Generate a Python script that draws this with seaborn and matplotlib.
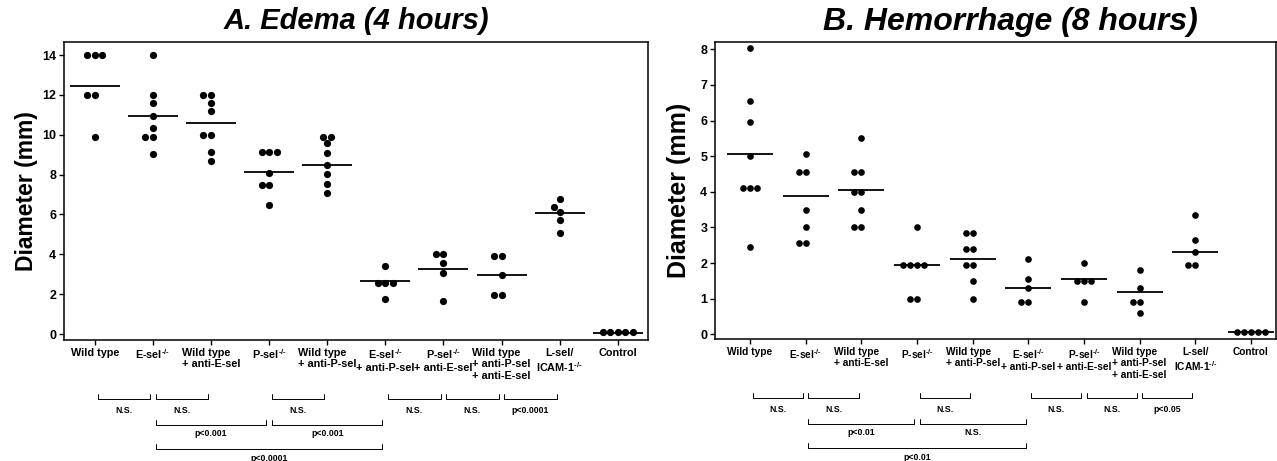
import pandas as pd
import matplotlib
matplotlib.use('Agg')
import matplotlib.pyplot as plt
import seaborn as sns

# Group labels (x axis)
ko = "$^{\u2010/\u2010}$"
groups = ["Wild type", "E-sel" + ko, "Wild type\n+ anti-E-sel", "P-sel" + ko,
          "Wild type\n+ anti-P-sel", "E-sel" + ko + "\n+ anti-P-sel",
          "P-sel" + ko + "\n+ anti-E-sel", "Wild type\n+ anti-P-sel\n+ anti-E-sel",
          "L-sel/\nICAM-1" + ko, "Control"]

# A. Edema (4 hours), diameter in mm
edema_wt = [14, 14, 14, 12, 12, 9.9]
edema_esel = [14, 12, 11.6, 10.95, 10.35, 9.9, 9.9, 9.05]
edema_wt_antie = [12, 12, 11.6, 11.2, 10.0, 10.0, 9.15, 8.7]
edema_psel = [9.15, 9.15, 9.15, 8.1, 7.5, 7.5, 6.45]
edema_wt_antip = [9.9, 9.9, 9.6, 9.1, 8.5, 8.05, 7.55, 7.1]
edema_esel_antip = [3.4, 2.55, 2.55, 2.55, 1.75]
edema_psel_antie = [4.0, 4.0, 3.55, 3.05, 1.65]
edema_wt_antipe = [3.9, 3.9, 2.95, 1.95, 1.95]
edema_lsel = [6.8, 6.35, 6.1, 5.7, 5.05]
edema_ctrl = [0.08, 0.08, 0.08, 0.08, 0.08]
edema_means = [12.45, 10.95, 10.6, 8.15, 8.5, 2.65, 3.25, 2.95, 6.05, 0.03]

# B. Hemorrhage (8 hours), diameter in mm
hem_wt = [8.05, 6.55, 5.95, 5.0, 4.1, 4.1, 4.1, 2.45]
hem_esel = [5.05, 4.55, 4.55, 3.5, 3.0, 2.55, 2.55]
hem_wt_antie = [5.5, 4.55, 4.55, 4.0, 4.0, 3.5, 3.0, 3.0]
hem_psel = [3.0, 1.95, 1.95, 1.95, 1.95, 1.0, 1.0]
hem_wt_antip = [2.85, 2.85, 2.4, 2.4, 1.95, 1.95, 1.5, 1.0]
hem_esel_antip = [2.1, 1.55, 1.3, 0.9, 0.9]
hem_psel_antie = [2.0, 1.5, 1.5, 1.5, 0.9]
hem_wt_antipe = [1.8, 1.3, 0.9, 0.9, 0.6]
hem_lsel = [3.35, 2.65, 2.3, 1.95, 1.95]
hem_ctrl = [0.05, 0.05, 0.05, 0.05, 0.05]
hem_means = [5.05, 3.88, 4.05, 1.95, 2.1, 1.3, 1.55, 1.2, 2.3, 0.05]

# Pairwise comparisons below the axes (group index from/to, row)
bracket_starts = [0, 1, 3, 5, 6, 7, 1, 3, 1]
bracket_ends = [1, 2, 4, 6, 7, 8, 3, 5, 5]
bracket_rows = [1, 1, 1, 1, 1, 1, 2, 2, 3]
edema_pvals = ["N.S.", "N.S.", "N.S.", "N.S.", "N.S.", "p<0.0001", "p<0.001", "p<0.001", "p<0.0001"]
hem_pvals = ["N.S.", "N.S.", "N.S.", "N.S.", "N.S.", "p<0.05", "p<0.01", "N.S.", "p<0.01"]


def to_long(values):
    rows = [(g, v) for g, vals in zip(groups, values) for v in vals]
    return pd.DataFrame(rows, columns=['group', 'diameter'])


edema_df = to_long([edema_wt, edema_esel, edema_wt_antie, edema_psel, edema_wt_antip,
                    edema_esel_antip, edema_psel_antie, edema_wt_antipe, edema_lsel, edema_ctrl])
hem_df = to_long([hem_wt, hem_esel, hem_wt_antie, hem_psel, hem_wt_antip,
                  hem_esel_antip, hem_psel_antie, hem_wt_antipe, hem_lsel, hem_ctrl])

sns.set_theme(style='ticks', rc={'axes.edgecolor': 'black', 'xtick.color': 'black',
                                 'ytick.color': 'black', 'text.color': 'black',
                                 'axes.labelcolor': 'black'})
plt.rcParams['font.family'] = ['Liberation Sans', 'DejaVu Sans']
plt.rcParams['font.weight'] = 'bold'
plt.rcParams['mathtext.default'] = 'regular'

fig = plt.figure(figsize=(12.77, 4.61), dpi=100)
ax_a = fig.add_axes([0.0501, 0.2625, 0.4573, 0.647])
ax_b = fig.add_axes([0.5599, 0.2641, 0.4393, 0.6443])

row_y = [-0.198, -0.285, -0.366]
text_y = [-0.235, -0.315, -0.398]


def draw_panel(ax, df, means, pvals, title, title_size, title_x, yticks, ylim, xlim,
               dot, bar, ylab_size, ylab_pad, xlab_size):
    sns.swarmplot(data=df, x='group', y='diameter', order=groups, color='black',
                  size=dot, linewidth=0, ax=ax, zorder=2)
    mean_df = pd.DataFrame({'group': groups, 'diameter': means})
    sns.pointplot(data=mean_df, x='group', y='diameter', order=groups, color='black',
                  markers='_', linestyles='none', errorbar=None, markersize=bar,
                  markeredgewidth=1.3, ax=ax, zorder=3)

    ax.set_xticks(range(len(groups)), labels=groups)
    for lbl in ax.get_xticklabels():
        lbl.set_multialignment('left' if lbl.get_text().startswith('Wild type\n') else 'center')
    ax.set_xlim(*xlim)
    ax.set_ylim(*ylim)
    ax.set_yticks(yticks)
    ax.set_xlabel('')
    ax.set_ylabel('Diameter (mm)', fontsize=ylab_size, fontweight='bold', labelpad=ylab_pad)
    ax.set_title(title, fontsize=title_size, fontweight='bold', fontstyle='italic',
                 pad=9, x=title_x)
    ax.tick_params(axis='x', direction='out', length=3.5, width=1, labelsize=xlab_size, pad=2)
    ax.tick_params(axis='y', direction='out', length=3.5, width=1, labelsize=9, pad=2)
    for sp in ax.spines.values():
        sp.set_visible(True)
        sp.set_linewidth(1.1)

    trans = ax.get_xaxis_transform()
    for a, b, row, label in zip(bracket_starts, bracket_ends, bracket_rows, pvals):
        y = row_y[row - 1]
        x0, x1 = a + 0.05, b - 0.05
        ax.plot([x0, x0, x1, x1], [y + 0.016, y, y, y + 0.016], transform=trans,
                clip_on=False, color='black', lw=0.7)
        ax.text((a + b) / 2, text_y[row - 1], label, transform=trans, ha='center',
                va='center', fontsize=6.3)


draw_panel(ax_a, edema_df, edema_means, edema_pvals, 'A. Edema (4 hours)', 21, 0.5,
           range(0, 15, 2), (-0.3, 14.67), (-0.53, 9.52), 5.2, 36, 16.5, 3, 7.8)
draw_panel(ax_b, hem_df, hem_means, hem_pvals, 'B. Hemorrhage (8 hours)', 23, 0.527,
           range(0, 9), (-0.14, 8.2), (-0.63, 9.45), 4.8, 33, 18, 7, 7.3)

plt.savefig('out.png', dpi=100)
